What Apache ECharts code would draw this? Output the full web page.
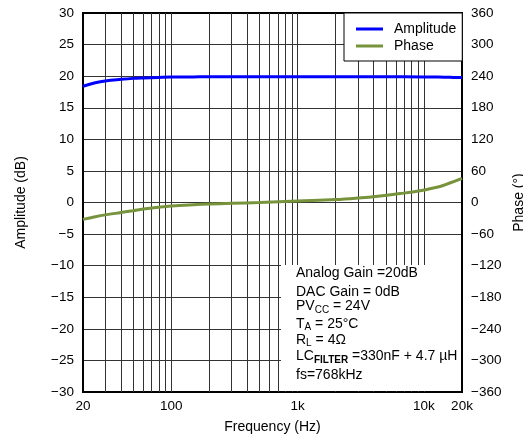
<!DOCTYPE html>
<html>
<head>
<meta charset="utf-8">
<script src="https://cdn.jsdelivr.net/npm/echarts@6/dist/echarts.min.js"></script>
<style>html,body{margin:0;padding:0;background:#fff}#c{width:523px;height:435px}</style>
</head>
<body>
<div id="c"></div>
<script>
// Frequencies (Hz)
const freqAmp = [20, 25, 30, 40, 50, 60, 80, 100, 150, 200, 300, 500, 1000, 2000, 5000, 10000, 13000, 16000, 20000];
const amplitudeDb = [18.4, 18.95, 19.25, 19.5, 19.65, 19.72, 19.8, 19.85, 19.88, 19.9, 19.9, 19.9, 19.9, 19.9, 19.9, 19.88, 19.85, 19.82, 19.78];
const freqPhase = [20, 25, 30, 40, 50, 60, 80, 100, 150, 200, 300, 500, 1000, 2000, 3000, 4500, 6500, 9300, 13400, 16000, 20000];
const phaseDeg = [-32, -27, -23.5, -19, -15.5, -12.5, -9, -6.8, -4.3, -2.9, -1.5, 0, 2.8, 5.5, 8.5, 12.5, 17, 22.5, 30.5, 37, 46];
const gridFreqs = [30, 40, 50, 60, 70, 80, 90, 100, 200, 300, 400, 500, 600, 700, 800, 900, 1000, 2000, 3000, 4000, 5000, 6000, 7000, 8000, 9000, 10000];
const ampTicks = {min: -30, max: 30, interval: 5};
const phaseTicks = {min: -360, max: 360, interval: 60};
const notes = [
  'Analog Gain =20dB',
  'DAC Gain = 0dB',
  'PV{sub|CC} = 24V',
  'T{sub|A} = 25°C',
  'R{sub|L} = 4Ω',
  'LC{subb|FILTER} =330nF + 4.7 µH',
  'fs=768kHz'
];
const noteY = [274, 292.7, 307.5, 325, 340.7, 357.3, 376];

const FONT = 'Liberation Sans, Arial, sans-serif';
const minus = v => String(v).replace('-', '\u2212');
const chart = echarts.init(document.getElementById('c'), null, {renderer: 'canvas'});

const noteGraphics = notes.map((t, i) => ({
  type: 'text', left: 296, top: noteY[i] - 8, z: 101,
  style: {
    text: t, fill: '#000', font: '14px ' + FONT,
    rich: {
      sub: {fontSize: 10, fontFamily: FONT, padding: [7, 0, 0, 0]},
      subb: {fontSize: 10, fontWeight: 'bold', fontFamily: FONT, padding: [7, 0, 0, 0]}
    }
  }
}));

chart.setOption({
  animation: false,
  backgroundColor: '#fff',
  grid: {left: 83, right: 61, top: 13, bottom: 43, show: true, borderColor: '#000', borderWidth: 2,
    backgroundColor: 'transparent', z: 3, containLabel: false, outerBoundsMode: 'none'},
  legend: {
    data: ['Amplitude', 'Phase'], orient: 'vertical', left: 344, top: 13,
    backgroundColor: '#fff', borderColor: '#000', borderWidth: 1,
    padding: [9, 6, 8, 12], itemGap: 3, itemWidth: 27, itemHeight: 3, icon: 'rect',
    textStyle: {fontSize: 14, fontFamily: FONT, color: '#000', lineHeight: 14, padding: [0, 0, 0, 6]},
    z: 60
  },
  xAxis: {
    type: 'log', logBase: 10, min: 20, max: 20000,
    name: 'Frequency (Hz)', nameLocation: 'middle', nameGap: 28,
    nameTextStyle: {fontSize: 14, fontFamily: FONT, color: '#000'},
    axisLine: {show: false}, axisTick: {show: false}, splitLine: {show: false},
    axisLabel: {fontSize: 13.5, fontFamily: FONT, color: '#000', margin: 7,
      formatter: v => v >= 1000 ? (Math.round(v / 1000) + 'k') : String(Math.round(v))}
  },
  yAxis: [{
    type: 'value', min: ampTicks.min, max: ampTicks.max, interval: ampTicks.interval,
    name: 'Amplitude (dB)', nameLocation: 'middle', nameGap: 55,
    nameTextStyle: {fontSize: 14, fontFamily: FONT, color: '#000'},
    axisLine: {show: false}, axisTick: {show: false},
    splitLine: {show: true, lineStyle: {color: '#333', width: 1}},
    axisLabel: {fontSize: 13.5, fontFamily: FONT, color: '#000', margin: 9, formatter: minus}
  }, {
    type: 'value', min: phaseTicks.min, max: phaseTicks.max, interval: phaseTicks.interval,
    name: 'Phase (°)', nameLocation: 'middle', nameGap: 47,
    nameTextStyle: {fontSize: 14, fontFamily: FONT, color: '#000'},
    axisLine: {show: false}, axisTick: {show: false}, splitLine: {show: false},
    axisLabel: {fontSize: 13.5, fontFamily: FONT, color: '#000', margin: 9, formatter: minus}
  }],
  graphic: [{
    type: 'rect', left: 281, top: 265, z: 100,
    shape: {width: 180, height: 126}, style: {fill: '#fff'}
  }].concat(noteGraphics),
  series: [{
    name: 'grid', type: 'line', data: [], z: 1, silent: true,
    markLine: {silent: true, symbol: 'none', label: {show: false}, animation: false,
      lineStyle: {color: '#333', width: 1, type: 'solid'},
      data: gridFreqs.map(f => ({xAxis: f}))}
  }, {
    name: 'Amplitude', type: 'line', smooth: 0.4, showSymbol: false, z: 5,
    lineStyle: {color: '#0000ff', width: 3}, itemStyle: {color: '#0000ff'},
    data: freqAmp.map((f, i) => [f, amplitudeDb[i]])
  }, {
    name: 'Phase', type: 'line', smooth: 0.4, showSymbol: false, yAxisIndex: 1, z: 5,
    lineStyle: {color: '#77933c', width: 3}, itemStyle: {color: '#77933c'},
    data: freqPhase.map((f, i) => [f, phaseDeg[i]])
  }]
});
</script>
</body>
</html>
